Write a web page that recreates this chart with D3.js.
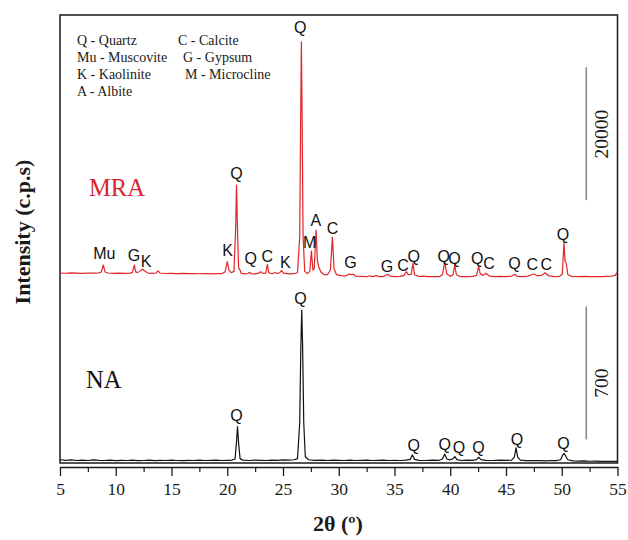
<!DOCTYPE html>
<html>
<head>
<meta charset="utf-8">
<script src="https://cdn.jsdelivr.net/npm/d3@7"></script>
<style>
  body { margin: 0; background: #fff; }
  svg { display: block; }
</style>
</head>
<body>
<div id="chart"></div>
<script>
// ---- data ----
// [2theta (deg), intensity (c.p.s)]
const mraPattern = [
  [5.0,2560],[5.5,2520],[6.0,2580],[6.5,2540],[7.0,2500],[7.5,2560],[8.0,2530],[8.5,2580],
  [8.7,2700],[8.88,3760],[9.05,2700],[9.3,2560],[9.8,2500],[10.3,2540],[10.8,2490],[11.3,2530],
  [11.5,2650],[11.66,3760],[11.8,2700],[12.0,2650],[12.25,2950],[12.4,3110],[12.6,2850],[12.9,2550],
  [13.3,2500],[13.6,2560],[13.8,2860],[13.95,2560],[14.4,2480],[15.0,2500],[15.5,2460],[16.0,2490],
  [16.5,2450],[17.0,2480],[17.5,2440],[18.0,2470],[18.5,2430],[19.0,2460],[19.5,2470],[19.8,2700],
  [20.0,4260],[20.15,3000],[20.35,2600],[20.6,2800],[20.75,9000],[20.83,15790],[20.92,9000],[21.02,3300],
  [21.1,3160],[21.25,2500],[21.6,2420],[21.85,2480],[22.0,2660],[22.15,2450],[22.5,2420],[22.85,2550],
  [23.0,2750],[23.2,2500],[23.45,2550],[23.6,3865],[23.72,2600],[24.0,2450],[24.3,2630],[24.5,2480],
  [24.7,2600],[24.87,2900],[25.05,2550],[25.5,2420],[26.0,2450],[26.3,2600],[26.5,8000],[26.58,25000],
  [26.65,37300],[26.72,25000],[26.8,8000],[26.95,2800],[27.2,2450],[27.4,2800],[27.55,5865],[27.68,3000],
  [27.8,3200],[27.97,9020],[28.08,4500],[28.2,3500],[28.4,2700],[28.7,2300],[29.0,2300],[29.25,3000],
  [29.43,7925],[29.58,3200],[29.8,2300],[30.2,2150],[30.6,2100],[30.9,2350],[31.0,2400],[31.15,2300],
  [31.3,2380],[31.5,2100],[32.0,2050],[32.5,2000],[32.8,2150],[33.0,2000],[33.4,2150],[33.6,2000],
  [34.0,2020],[34.4,2360],[34.6,2100],[35.0,2020],[35.5,2050],[35.85,2200],[36.05,2750],[36.25,2300],
  [36.5,2350],[36.65,4015],[36.8,2300],[37.2,2020],[37.6,2100],[38.0,2000],[38.5,2020],[39.0,2000],
  [39.3,2300],[39.5,4165],[39.7,2400],[40.0,2050],[40.25,2300],[40.4,3760],[40.55,2300],[40.9,2020],
  [41.5,2000],[42.0,2050],[42.35,2200],[42.55,3500],[42.7,2400],[42.95,2200],[43.2,2510],[43.5,2100],
  [44.0,2000],[44.5,2050],[45.0,2000],[45.5,2100],[45.8,2360],[46.0,2050],[46.5,2000],[47.0,2100],
  [47.3,2300],[47.5,2400],[47.8,2150],[48.2,2200],[48.5,2600],[48.8,2150],[49.3,2000],[49.8,2050],
  [50.05,2400],[50.2,7110],[50.3,4300],[50.4,4060],[50.55,2300],[50.9,2050],[51.5,2000],[52.0,2050],
  [52.5,2000],[53.0,2020],[53.5,2000],[54.0,2050],[54.5,2100],[54.8,2200],[55.0,2750]
];

const naPattern = [
  [5.0,54],[5.5,51],[6.0,53],[6.5,50],[7.0,52],[7.5,50],[8.0,53],[8.5,51],[9.0,50],[9.5,52],
  [10.0,49],[10.5,51],[11.0,50],[11.5,52],[12.0,49],[12.5,50],[13.0,52],[13.5,49],[14.0,51],[14.5,50],
  [15.0,52],[15.5,50],[16.0,49],[16.5,51],[17.0,50],[17.5,52],[18.0,50],[18.5,51],[19.0,52],[19.5,50],
  [20.0,51],[20.4,52],[20.7,58],[20.82,140],[20.92,228],[21.02,140],[21.15,60],[21.4,52],[22.0,50],
  [22.5,52],[23.0,51],[23.5,50],[24.0,52],[24.5,51],[25.0,53],[25.5,52],[26.0,54],[26.3,60],
  [26.5,250],[26.6,650],[26.68,842],[26.76,650],[26.86,250],[27.0,70],[27.3,54],[27.8,51],[28.5,52],
  [29.0,50],[29.5,52],[30.0,51],[30.5,50],[31.0,52],[31.5,50],[32.0,51],[32.5,52],[33.0,50],[33.5,51],
  [34.0,52],[34.5,50],[35.0,51],[35.5,50],[36.0,52],[36.4,56],[36.6,79],[36.8,56],[37.2,51],[37.8,50],
  [38.4,52],[39.0,51],[39.3,58],[39.5,84],[39.7,58],[39.95,53],[40.2,58],[40.42,70],[40.6,55],[41.0,50],
  [41.5,52],[42.0,51],[42.35,55],[42.55,67],[42.75,55],[43.2,51],[43.8,50],[44.5,52],[45.0,51],
  [45.5,52],[45.75,68],[45.9,117],[46.05,68],[46.3,52],[46.8,49],[47.5,50],[48.0,49],[48.5,48],
  [49.0,50],[49.5,49],[49.9,54],[50.1,80],[50.2,88],[50.35,74],[50.55,54],[51.0,48],[51.5,47],
  [52.0,48],[52.5,46],[53.0,47],[53.5,45],[54.0,46],[54.5,45],[55.0,45]
];

// phase labels: [label, 2theta, intensity at label centre]
const mraLabels = [
  ["Mu",8.97,5520],["G",11.63,5264],["K",12.71,4360],["K",20.03,6016],["Q",20.83,17550],
  ["Q",22.11,4770],["C",23.58,5110],["K",25.22,4105],["Q",26.55,39555],["M",27.4,7114],
  ["A",27.94,10528],["C",29.44,9280],["G",31.05,4105],["G",34.33,3504],["C",35.76,3760],
  ["Q",36.72,5114],["Q",39.41,5114],["Q",40.39,4768],["Q",42.43,4768],["C",43.47,4016],
  ["Q",45.77,4016],["C",47.36,3910],["C",48.61,3910],["Q",50.1,8422]
];
const naLabels = [
  ["Q",20.83,289],["Q",26.57,903],["Q",36.72,128],["Q",39.5,137],["Q",40.78,119],
  ["Q",42.54,119],["Q",45.98,161],["Q",50.16,140]
];

const legendCol1 = ["Q - Quartz", "Mu - Muscovite", "K - Kaolinite", "A - Albite"];
const legendCol2 = ["C - Calcite", "G - Gypsum", "M - Microcline"];

const xTicks = [5, 10, 15, 20, 25, 30, 35, 40, 45, 50, 55];
const xMinorTicks = [7.5, 12.5, 17.5, 22.5, 27.5, 32.5, 37.5, 42.5, 47.5, 52.5];

// scale bars: [start intensity, length]
const mraBar = [13500, 20000];
const naBar = [161, 700];

// ---- layout ----
const W = 628, H = 540;
const frame = { left: 60, right: 617.5, top: 15, bottom: 463 };
const axisY = 467;
const red = "#e0262a";
const serif = "'Liberation Serif', 'Times New Roman', serif";
const sans = "'Liberation Sans', Arial, sans-serif";

const svg = d3.select("#chart").append("svg")
  .attr("width", W).attr("height", H);

var x = d3.scaleLinear().domain([5, 55]).range([frame.left, frame.right]);
var yMRA = d3.scaleLinear().domain([0, 20000]).range([290, 157]);
var yNA = d3.scaleLinear().domain([0, 700]).range([470, 337]);

// frame
svg.append("rect")
  .attr("x", frame.left).attr("y", frame.top)
  .attr("width", frame.right - frame.left)
  .attr("height", frame.bottom - frame.top)
  .attr("fill", "none").attr("stroke", "#1a1a1a").attr("stroke-width", 1.5);

/* X AXIS */
const xAxis = svg.append("g")
  .attr("transform", `translate(0, ${axisY})`)
  .call(d3.axisBottom(x).tickValues(xTicks).tickSize(9).tickSizeOuter(0).tickPadding(7));
xAxis.select(".domain").attr("stroke", "#1a1a1a").attr("stroke-width", 1.5);
xAxis.selectAll(".tick line").attr("stroke", "#1a1a1a").attr("stroke-width", 1.3);
xAxis.selectAll(".tick text")
  .attr("font-family", serif).attr("font-size", 17.5).attr("fill", "#1a1a1a");

const xMinor = svg.append("g")
  .attr("transform", `translate(0, ${axisY})`)
  .call(d3.axisBottom(x).tickValues(xMinorTicks).tickSize(5).tickFormat(""));
xMinor.select(".domain").remove();
xMinor.selectAll(".tick line").attr("stroke", "#1a1a1a").attr("stroke-width", 1.2);

// axis titles
svg.append("text")
  .attr("x", 338).attr("y", 523).attr("dy", "0.35em")
  .attr("text-anchor", "middle")
  .attr("font-family", serif).attr("font-size", 22).attr("font-weight", "bold")
  .attr("fill", "#1a1a1a")
  .text("2θ (º)");

svg.append("text")
  .attr("transform", "translate(22, 232) rotate(-90)")
  .attr("dy", "0.35em")
  .attr("text-anchor", "middle")
  .attr("font-family", serif).attr("font-size", 22).attr("font-weight", "bold")
  .attr("fill", "#1a1a1a")
  .text("Intensity (c.p.s)");

/* TRACES */
const lineMRA = d3.line().x((d) => x(d[0])).y((d) => yMRA(d[1]));
const lineNA = d3.line().x((d) => x(d[0])).y((d) => yNA(d[1]));

svg.append("path").datum(mraPattern)
  .attr("d", lineMRA)
  .attr("fill", "none").attr("stroke", red).attr("stroke-width", 1.2)
  .attr("stroke-linejoin", "round");

svg.append("path").datum(naPattern)
  .attr("d", lineNA)
  .attr("fill", "none").attr("stroke", "#111").attr("stroke-width", 1.2)
  .attr("stroke-linejoin", "round");

/* PHASE LABELS */
function drawLabels(data, y) {
  svg.append("g").selectAll("text")
    .data(data)
    .join("text")
    .attr("x", (d) => x(d[1]))
    .attr("y", (d) => y(d[2]))
    .attr("dy", "0.36em")
    .attr("text-anchor", "middle")
    .attr("font-family", sans).attr("font-size", 16).attr("fill", "#111")
    .text((d) => d[0]);
}
drawLabels(mraLabels, yMRA);
drawLabels(naLabels, yNA);

/* SAMPLE NAMES */
svg.append("text")
  .attr("x", 89).attr("y", 187).attr("dy", "0.35em")
  .attr("font-family", serif).attr("font-size", 24.5).attr("fill", "#d8262b")
  .text("MRA");
svg.append("text")
  .attr("x", 86).attr("y", 379).attr("dy", "0.35em")
  .attr("font-family", serif).attr("font-size", 24.5).attr("fill", "#111")
  .text("NA");

/* LEGEND */
const legend = svg.append("g")
  .attr("font-family", serif).attr("font-size", 14).attr("fill", "#1a1a1a");
legend.selectAll("text.c1")
  .data(legendCol1)
  .join("text")
  .attr("class", "c1")
  .attr("x", 77)
  .attr("y", (d, i) => 40 + i * 17)
  .attr("dy", "0.35em")
  .text((d) => d);
const col2X = [178, 183, 185];
legend.selectAll("text.c2")
  .data(legendCol2)
  .join("text")
  .attr("class", "c2")
  .attr("x", (d, i) => col2X[i])
  .attr("y", (d, i) => 40 + i * 17)
  .attr("dy", "0.35em")
  .text((d) => d);

/* SCALE BARS */
const barX = x(52.2);
function scaleBar(bar, y, labelY) {
  svg.append("line")
    .attr("x1", barX).attr("x2", barX)
    .attr("y1", y(bar[0])).attr("y2", y(bar[0] + bar[1]))
    .attr("stroke", "#8a8a8a").attr("stroke-width", 1.6);
  svg.append("text")
    .attr("transform", `translate(${barX + 15}, ${labelY}) rotate(-90)`)
    .attr("dy", "0.35em")
    .attr("text-anchor", "middle")
    .attr("font-family", serif).attr("font-size", 19.5).attr("fill", "#1a1a1a")
    .text(bar[1]);
}
scaleBar(mraBar, yMRA, 134);
scaleBar(naBar, yNA, 383);
</script>
</body>
</html>
